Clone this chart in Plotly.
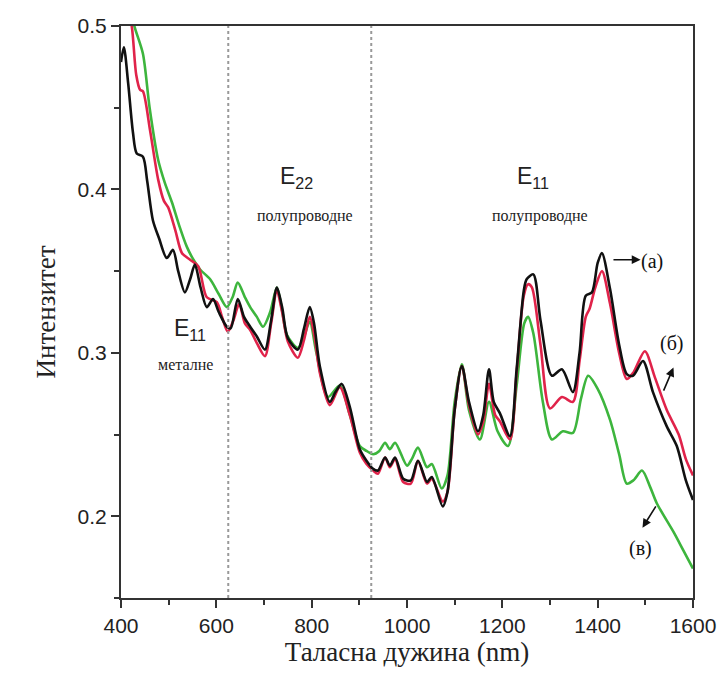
import plotly.graph_objects as go

# ---- data ----
x_a = [400, 406, 415, 425, 433, 446, 455, 467, 480, 496, 509, 520, 534, 545, 555, 567, 580, 593, 605, 622, 630,
       645, 658, 671, 685, 702, 715, 727, 738, 750, 771, 784, 796, 805, 817, 838, 850, 863, 880, 901, 915, 929,
       939, 954, 964, 975, 992, 1008, 1023, 1042, 1052, 1075, 1085, 1100, 1115, 1130, 1149, 1160, 1172, 1182,
       1195, 1216, 1230, 1245, 1251, 1265, 1280, 1304, 1325, 1348, 1362, 1375, 1388, 1400, 1409, 1426, 1445,
       1461, 1474, 1495, 1516, 1545, 1566, 1585, 1600]
y_a = [0.478, 0.487, 0.465, 0.435, 0.422, 0.420, 0.405, 0.381, 0.370, 0.358, 0.363, 0.350, 0.337, 0.345, 0.354,
       0.340, 0.328, 0.333, 0.325, 0.316, 0.315, 0.333, 0.322, 0.316, 0.310, 0.302, 0.320, 0.340, 0.328, 0.309,
       0.302, 0.315, 0.328, 0.318, 0.292, 0.270, 0.276, 0.281, 0.267, 0.241, 0.234, 0.229, 0.228, 0.236, 0.231,
       0.236, 0.223, 0.222, 0.234, 0.221, 0.224, 0.206, 0.215, 0.265, 0.292, 0.270, 0.252, 0.262, 0.290, 0.270,
       0.263, 0.249, 0.290, 0.338, 0.345, 0.348, 0.320, 0.286, 0.290, 0.276, 0.300, 0.335, 0.337, 0.355, 0.361,
       0.339, 0.305, 0.287, 0.286, 0.295, 0.276, 0.255, 0.243, 0.222, 0.210]

x_b = [400, 410, 423, 432, 440, 446, 461, 478, 490, 499, 514, 528, 545, 562, 580, 601, 612, 624, 636, 648, 660,
       671, 685, 702, 715, 727, 738, 750, 771, 784, 796, 806, 817, 838, 859, 880, 901, 915, 929, 939, 954, 964,
       975, 992, 1008, 1023, 1042, 1052, 1075, 1085, 1100, 1115, 1130, 1149, 1160, 1172, 1185, 1195, 1216, 1230,
       1245, 1254, 1262, 1280, 1300, 1325, 1348, 1362, 1375, 1383, 1395, 1409, 1426, 1445, 1461, 1475, 1499,
       1520, 1545, 1570, 1585, 1600]
y_b = [0.54, 0.52, 0.499, 0.470, 0.461, 0.460, 0.436, 0.406, 0.393, 0.389, 0.375, 0.361, 0.357, 0.353, 0.334,
       0.331, 0.322, 0.313, 0.320, 0.330, 0.318, 0.314, 0.306, 0.298, 0.318, 0.338, 0.325, 0.307, 0.297, 0.308,
       0.322, 0.310, 0.288, 0.268, 0.279, 0.262, 0.239, 0.232, 0.228, 0.226, 0.236, 0.230, 0.235, 0.221, 0.220,
       0.234, 0.220, 0.223, 0.209, 0.215, 0.265, 0.292, 0.268, 0.250, 0.258, 0.281, 0.262, 0.258, 0.247, 0.288,
       0.335, 0.342, 0.340, 0.305, 0.266, 0.273, 0.270, 0.295, 0.322, 0.327, 0.340, 0.350, 0.330, 0.300, 0.284,
       0.288, 0.301, 0.285, 0.265, 0.250, 0.235, 0.225]

x_c = [400, 410, 420, 429, 446, 460, 478, 492, 507, 522, 538, 552, 566, 587, 605, 622, 634, 645, 660, 671, 685,
       698, 713, 727, 738, 748, 771, 784, 796, 810, 834, 859, 880, 901, 915, 929, 942, 954, 964, 975, 1000, 1010,
       1023, 1042, 1052, 1073, 1085, 1100, 1115, 1130, 1153, 1172, 1190, 1212, 1230, 1246, 1254, 1265, 1285,
       1304, 1327, 1348, 1365, 1380, 1400, 1426, 1445, 1461, 1475, 1493, 1510, 1524, 1560, 1580, 1600]
y_c = [0.56, 0.53, 0.51, 0.499, 0.483, 0.450, 0.418, 0.404, 0.392, 0.378, 0.365, 0.357, 0.351, 0.345, 0.336,
       0.328, 0.334, 0.343, 0.334, 0.328, 0.322, 0.316, 0.325, 0.340, 0.326, 0.311, 0.303, 0.310, 0.319, 0.300,
       0.273, 0.280, 0.262, 0.243, 0.240, 0.238, 0.240, 0.245, 0.241, 0.245, 0.231, 0.235, 0.242, 0.230, 0.232,
       0.217, 0.225, 0.270, 0.293, 0.265, 0.247, 0.270, 0.252, 0.243, 0.280, 0.318, 0.322, 0.312, 0.270, 0.247,
       0.252, 0.251, 0.272, 0.286, 0.278, 0.259, 0.238, 0.220, 0.222, 0.228, 0.218, 0.208, 0.190, 0.179, 0.168]

region_bounds = [625, 925]

SERIF = "Liberation Serif, Times New Roman, serif"
SANS = "Liberation Sans, Arial, sans-serif"

fig = go.Figure()
for xs, ys, col in [(x_c, y_c, "#3db53d"), (x_b, y_b, "#e0234a"), (x_a, y_a, "#111111")]:
    fig.add_trace(go.Scatter(x=xs, y=ys, mode="lines",
                             line=dict(color=col, width=2.6, shape="spline", smoothing=0.8),
                             showlegend=False, hoverinfo="skip"))

for xb in region_bounds:
    fig.add_shape(type="line", x0=xb, x1=xb, y0=0, y1=1, yref="paper",
                  line=dict(color="#999999", width=2, dash="dot"))

annots = [
    dict(x=769, y=0.407, text="E<sub>22</sub>", font=dict(family=SANS, size=23, color="#222")),
    dict(x=786, y=0.384, text="полупроводне", font=dict(family=SERIF, size=16, color="#222")),
    dict(x=1264, y=0.407, text="E<sub>11</sub>", font=dict(family=SANS, size=23, color="#222")),
    dict(x=1279, y=0.384, text="полупроводне", font=dict(family=SERIF, size=16, color="#222")),
    dict(x=545, y=0.314, text="E<sub>11</sub>", font=dict(family=SANS, size=23, color="#222")),
    dict(x=536, y=0.293, text="металне", font=dict(family=SERIF, size=16, color="#222")),
    dict(x=1514, y=0.356, text="(а)", font=dict(family=SERIF, size=20, color="#111")),
    dict(x=1556, y=0.306, text="(б)", font=dict(family=SERIF, size=20, color="#111")),
    dict(x=1489, y=0.180, text="(в)", font=dict(family=SERIF, size=20, color="#111")),
]
for a in annots:
    fig.add_annotation(showarrow=False, xref="x", yref="y", **a)

arrows = [((1430, 0.357), (1490, 0.357)),
          ((1537, 0.276), (1559, 0.291)),
          ((1524, 0.207), (1494, 0.193))]
for (x0, y0), (x1, y1) in arrows:
    fig.add_annotation(x=x1, y=y1, ax=x0, ay=y0, xref="x", yref="y", axref="x", ayref="y",
                       text="", showarrow=True, arrowhead=2, arrowsize=1.1, arrowwidth=1.6,
                       arrowcolor="#111")

fig.update_layout(
    width=718, height=671,
    margin=dict(l=113, r=33, t=18, b=81, autoexpand=False),
    paper_bgcolor="white", plot_bgcolor="white",
    xaxis=dict(range=[400, 1600], dtick=200, tick0=400, showgrid=False, zeroline=False,
               showline=True, linecolor="#333", linewidth=2, mirror=True,
               ticks="outside", ticklen=8, tickwidth=2, tickcolor="#333",
               minor=dict(dtick=100, ticks="outside", ticklen=5, tickwidth=2, tickcolor="#333"),
               tickfont=dict(family=SANS, size=21, color="#222"),
               title=dict(text="Таласна дужина (nm)", font=dict(family=SERIF, size=27, color="#222"),
                          standoff=6)),
    yaxis=dict(range=[0.15, 0.5], dtick=0.1, tick0=0.2, showgrid=False, zeroline=False,
               showline=True, linecolor="#333", linewidth=2, mirror=True,
               ticks="outside", ticklen=8, tickwidth=2, tickcolor="#333",
               minor=dict(dtick=0.05, ticks="outside", ticklen=5, tickwidth=2, tickcolor="#333"),
               tickfont=dict(family=SANS, size=21, color="#222"), tickformat=".1f",
               title=dict(text="Интензитет", font=dict(family=SERIF, size=27, color="#222"),
                          standoff=14)),
)

fig.write_html("out.html")
